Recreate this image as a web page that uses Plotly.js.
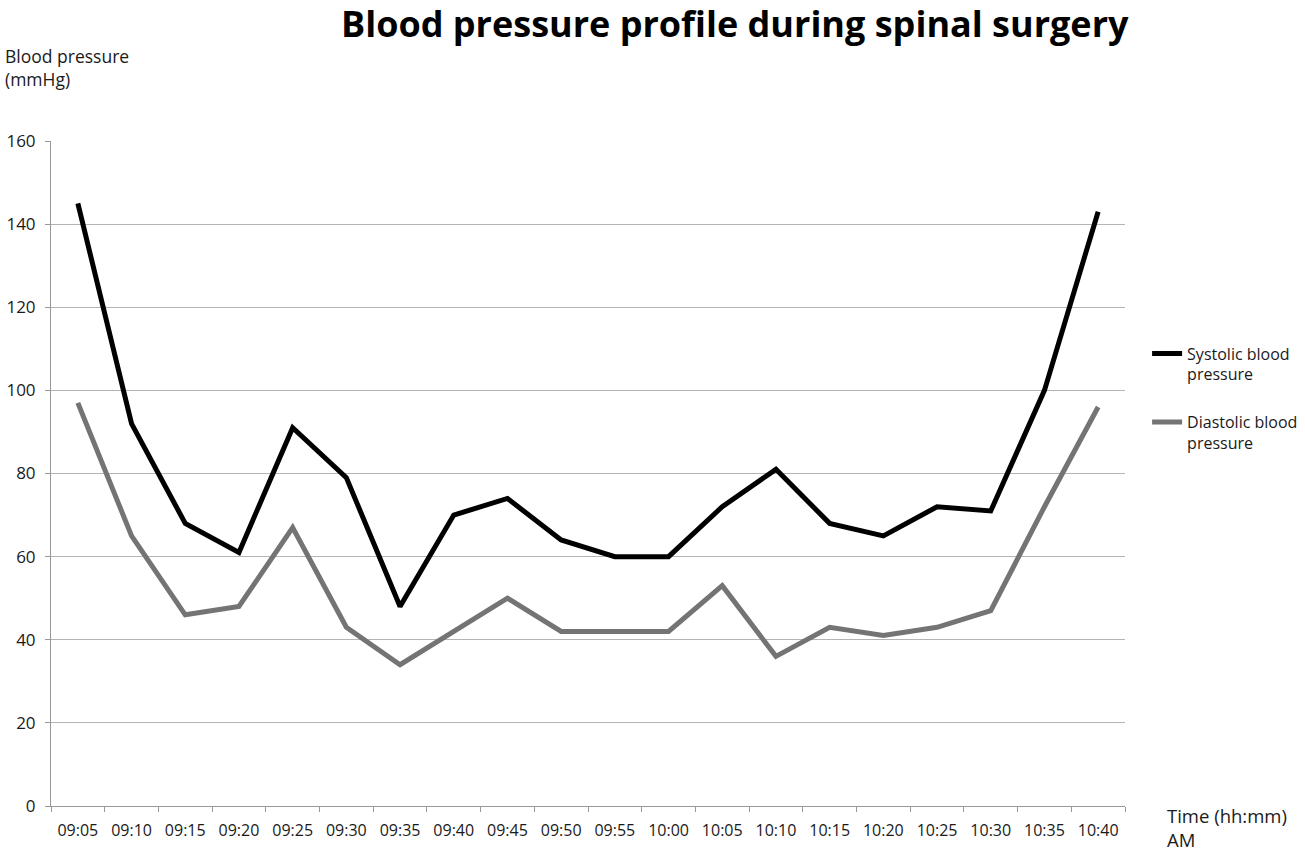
<!DOCTYPE html>
<html>
<head>
<meta charset="utf-8">
<script src="https://cdn.plot.ly/plotly-3.0.1.min.js"></script>
<style>html,body{margin:0;padding:0;background:#fff;}#chart{width:1305px;height:852px;}</style>
</head>
<body>
<div id="chart"></div>
<script>
var times = ["09:05","09:10","09:15","09:20","09:25","09:30","09:35","09:40","09:45","09:50","09:55","10:00","10:05","10:10","10:15","10:20","10:25","10:30","10:35","10:40"];
var systolic = [145, 92, 68, 61, 91, 79, 48, 70, 74, 64, 60, 60, 72, 81, 68, 65, 72, 71, 100, 143];
var diastolic = [97, 65, 46, 48, 67, 43, 34, 42, 50, 42, 42, 42, 53, 36, 43, 41, 43, 47, 72, 96];
var yTicks = [0, 20, 40, 60, 80, 100, 120, 140, 160];

var font = "Open Sans, Liberation Sans, sans-serif";
var txt = "#1a1a1a";

var traces = [
  {x: times, y: systolic, type: "scatter", mode: "lines", name: "Systolic blood<br>pressure", legendgroup: "sys",
   line: {color: "#000000", width: 5}},
  {x: times, y: diastolic, type: "scatter", mode: "lines", name: "Diastolic blood<br>pressure", legendgroup: "dia",
   line: {color: "#747474", width: 5}}
];

var layout = {
  width: 1305, height: 852,
  paper_bgcolor: "#ffffff", plot_bgcolor: "#ffffff",
  margin: {l: 51, r: 180, t: 141, b: 46, autoexpand: false},
  font: {family: font, size: 17, color: txt},
  title: {text: "<b>Blood pressure profile during spinal surgery</b>", x: 0.563, xanchor: "center", y: 0.971, yanchor: "middle",
          font: {family: font, size: 36, color: "#000000"}},
  xaxis: {type: "category", tickson: "boundaries", ticks: "outside", ticklen: 5, tickcolor: "#999", tickangle: 0,
          ticklabelstandoff: 10,
          showline: true, linecolor: "#999", linewidth: 1, showgrid: false, zeroline: false, automargin: false,
          tickfont: {family: font, size: 16, color: txt}, range: [-0.5, 19.5]},
  yaxis: {range: [0, 160], tickvals: yTicks, ticktext: yTicks.map(String), ticks: "outside", ticklen: 5, tickcolor: "#999",
          ticklabelstandoff: 6,
          showline: true, linecolor: "#999", linewidth: 1, showgrid: true, gridcolor: "#b4b4b4", gridwidth: 1,
          zeroline: false, automargin: false, tickfont: {family: font, size: 17, color: txt}},
  showlegend: true,
  legend: {xref: "container", yref: "container", x: 0.879, xanchor: "left", y: 0.605, yanchor: "top", valign: "top",
           font: {family: font, size: 16, color: txt}, tracegroupgap: 24, bgcolor: "rgba(0,0,0,0)"},
  annotations: [
    {text: "Blood pressure<br>(mmHg)", xref: "paper", yref: "paper", x: -0.045, y: 1.11, xanchor: "left", yanchor: "middle",
     showarrow: false, align: "left", font: {family: font, size: 17.5, color: txt}},
    {text: "Time (hh:mm)<br>AM", xref: "paper", yref: "paper", x: 1.037, y: 0.008, xanchor: "left", yanchor: "top",
     showarrow: false, align: "left", font: {family: font, size: 18.5, color: txt}}
  ]
};

Plotly.newPlot("chart", traces, layout, {displayModeBar: false, responsive: false});
</script>
</body>
</html>
